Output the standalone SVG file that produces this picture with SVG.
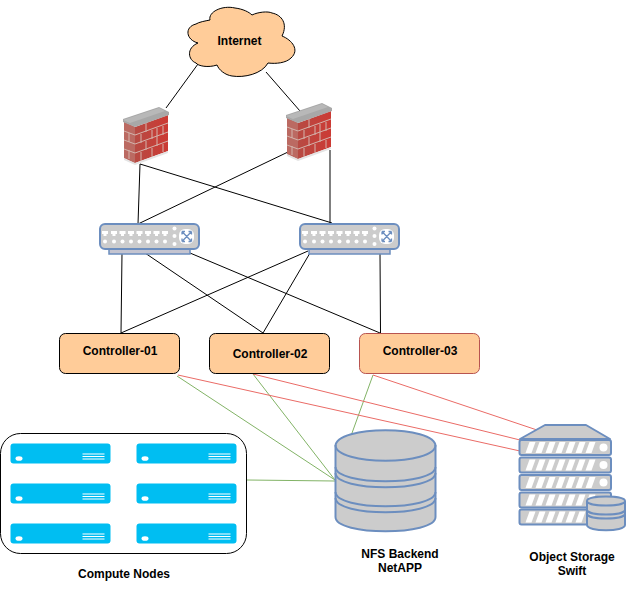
<svg xmlns="http://www.w3.org/2000/svg" width="638" height="591" viewBox="0 0 638 591">
<style>
text{font-family:"Liberation Sans",Arial,sans-serif;font-size:12px;font-weight:bold;fill:#000;text-anchor:middle}
.blk{stroke:#000;stroke-width:1;fill:none}
.grn{stroke:#82b366;stroke-width:1;fill:none}
.red{stroke:#ea6b66;stroke-width:1;fill:none}
.ctl{fill:#ffcc99;stroke:#000;stroke-width:1}
.steel{fill:#cccccc;stroke:#6c8ebf;stroke-width:2;stroke-linejoin:round}
.wh{fill:#fff}
.blade{fill:#00bef2}
.mortar{stroke:#d4b4ac;stroke-width:1;fill:none}
</style>
<defs>
<linearGradient id="brick" x1="0" y1="0" x2="1" y2="0"><stop offset="0" stop-color="#b05048"/><stop offset="1" stop-color="#cc3a34"/></linearGradient>
<g id="firewall">
<polygon points="124,122 135,127 168,115 168,151 135,163 124,158" fill="url(#brick)"/>
<polygon points="124,122 135,127 135,163 124,158" fill="#bb6a62"/>
<path class="mortar" d="M124,131 L135,135 L168,123 M124,140 L135,144 L168,132 M124,149 L135,153 L168,141 M146,123 V132 M157,128 V137 M146,141 V150 M157,137 V146 M141,134 V143 M152,130 V139 M163,126 V135 M141,152 V161 M152,148 V157 M163,144 V152 M129,133 V142 M129,150 V159"/>
<polygon points="123,119 159,107 169,112 169,115 135,127 123,122" fill="#a8a8a8"/>
<polygon points="123,120 159,108 165,111 130,123" fill="#b8b8b8"/>
<polygon points="124,158 135,163 168,151 168,153 135,165 124,160" fill="#e4e4e4"/>
</g>
<g id="switch">
<rect x="109" y="248" width="81" height="6" fill="#c4c4d0" stroke="#6c8ebf" stroke-width="1.500"/>
<rect x="100" y="224" width="99" height="25" rx="5" class="steel"/>
<g class="wh">
<path d="M102,231h6v3h-1.500v2h-3v-2h-1.500z M111,231h6v3h-1.500v2h-3v-2h-1.500z M119.500,231h6v3h-1.500v2h-3v-2h-1.500z M128,231h6v3h-1.500v2h-3v-2h-1.500z M136.500,231h6v3h-1.500v2h-3v-2h-1.500z M145,231h6v3h-1.500v2h-3v-2h-1.500z M153.500,231h6v3h-1.500v2h-3v-2h-1.500z M162,231h6v3h-1.500v2h-3v-2h-1.500z"/>
<circle cx="105" cy="241.500" r="2"/><circle cx="114" cy="241.500" r="2"/><circle cx="122.500" cy="241.500" r="2"/><circle cx="131" cy="241.500" r="2"/><circle cx="139.500" cy="241.500" r="2"/><circle cx="148" cy="241.500" r="2"/><circle cx="156.500" cy="241.500" r="2"/><circle cx="165" cy="241.500" r="2"/>
<circle cx="174.500" cy="228.500" r="2"/><circle cx="174.500" cy="236" r="2"/><circle cx="174.500" cy="244" r="2"/>
<rect x="179" y="229" width="15" height="15" rx="6"/>
</g>
<path d="M182,231.500 L191.500,241.500 M191.500,231.500 L182,241.500 M182,231.500h3M182,231.500v3M191.500,231.500h-3M191.500,231.500v3M182,241.500h3M182,241.500v-3M191.500,241.500h-3M191.500,241.500v-3" stroke="#6c8ebf" stroke-width="1.300" fill="none"/>
</g>
<g id="blade">
<rect x="0" y="0" width="100" height="20" rx="3" class="blade"/>
<ellipse cx="8.500" cy="15" rx="3.500" ry="2.300" class="wh"/>
<path d="M72,10.500h22M72,13h22M72,15.500h22" stroke="#fff" stroke-width="1" fill="none"/>
</g>
<g id="rack">
<rect x="0" y="0" width="91.500" height="15" rx="2" class="steel"/>
<g class="wh"><path d="M6,13l4,-11h6l-4,11z M16,13l4,-11h6l-4,11z M26,13l4,-11h6l-4,11z M36,13l4,-11h6l-4,11z M46,13l4,-11h6l-4,11z M56,13l4,-11h6l-4,11z M66,13l4,-11h6l-4,11z"/>
<circle cx="84" cy="7.500" r="4"/></g>
</g>
</defs>

<g id="connectors">
<path class="blk" d="M198,64L166,108M266,72L300,111M140,164L138,224M140,164L332,223M288,152L138,224M330,150V223"/>
<path class="blk" d="M122,253L121,333M145,253L263,333M190,253L380,333M308,251L121,333M310,253L263,333M380,253L380.500,333"/>
<path class="grn" d="M177,376L335,480M253,374L335,480M373,375L335,480M247,480L335,481"/>
<path class="red" d="M178,375L520,451M253,374L520,440M373,375L537,430"/>
</g>

<g id="internet">
<path d="M198,43 C186,40 184,27 196,24 C199,22 205,21 210,20 C208,12 222,5 235,8 C243,9 249,12 252,15 C258,12 268,11 272,13 C282,15 288,24 282,36 C292,40 300,50 291,58 C286,63 276,64 268,63 C262,74 244,78 232,76 C225,75 219,70 217,65 C208,68 198,66 196,63 C188,60 186,48 198,43 Z" class="ctl"/>
<text x="239.500" y="45">Internet</text>
</g>
<g id="firewall-1"><use href="#firewall"/></g>
<g id="firewall-2"><use href="#firewall" x="163" y="-4"/></g>
<g id="switch-1"><use href="#switch"/></g>
<g id="switch-2"><use href="#switch" x="200"/></g>

<g id="controller-01"><rect x="59.500" y="333.500" width="120" height="40" rx="6" class="ctl"/><text x="120" y="355">Controller-01</text></g>
<g id="controller-02"><rect x="209.500" y="333.500" width="120" height="40" rx="6" class="ctl"/><text x="270" y="358">Controller-02</text></g>
<g id="controller-03"><rect x="359.500" y="333.500" width="120" height="40" rx="6" class="ctl" style="stroke:#b85450"/><text x="420" y="355">Controller-03</text></g>

<g id="compute-nodes">
<rect x="0.500" y="433.500" width="246" height="120" rx="20" fill="#fff" stroke="#000"/>
<use href="#blade" x="10.500" y="443.500"/><use href="#blade" x="136.500" y="443.500"/>
<use href="#blade" x="10.500" y="483.500"/><use href="#blade" x="136.500" y="483.500"/>
<use href="#blade" x="10.500" y="523.500"/><use href="#blade" x="136.500" y="523.500"/>
<text x="124" y="578">Compute Nodes</text>
</g>

<g id="nfs-backend">
<path class="steel" d="M335.500,446 C335.500,425 435.500,425 435.500,446 V517 C435.500,536 335.500,536 335.500,517 Z"/>
<path class="steel" style="fill:none" d="M335.500,445 C335.500,466 435.500,466 435.500,445 M335.500,467 C336,486 435,486 435.500,467 M335.500,473 C336,492 435,492 435.500,473 M335.500,492 C336,511 435,511 435.500,492 M335.500,498 C336,517 435,517 435.500,498"/>
<text x="400" y="558">NFS Backend</text><text x="400" y="572">NetAPP</text>
</g>

<g id="object-storage">
<polygon points="520,439 545,425 586,425 610,439" class="steel"/>
<use href="#rack" x="519.500" y="440"/><use href="#rack" x="519.500" y="457.500"/><use href="#rack" x="519.500" y="475"/><use href="#rack" x="519.500" y="492.500"/><use href="#rack" x="519.500" y="509.500"/>
<path class="steel" d="M587,501 C587,495 625,495 625,501 V525 C625,532 587,532 587,525 Z"/>
<path class="steel" style="fill:none" d="M587,501 C587,507 625,507 625,501 M587,510 C588,516 624,516 625,510 M587,514 C588,520 624,520 625,514"/>
<text x="572" y="561">Object Storage</text><text x="572" y="575">Swift</text>
</g>
</svg>
